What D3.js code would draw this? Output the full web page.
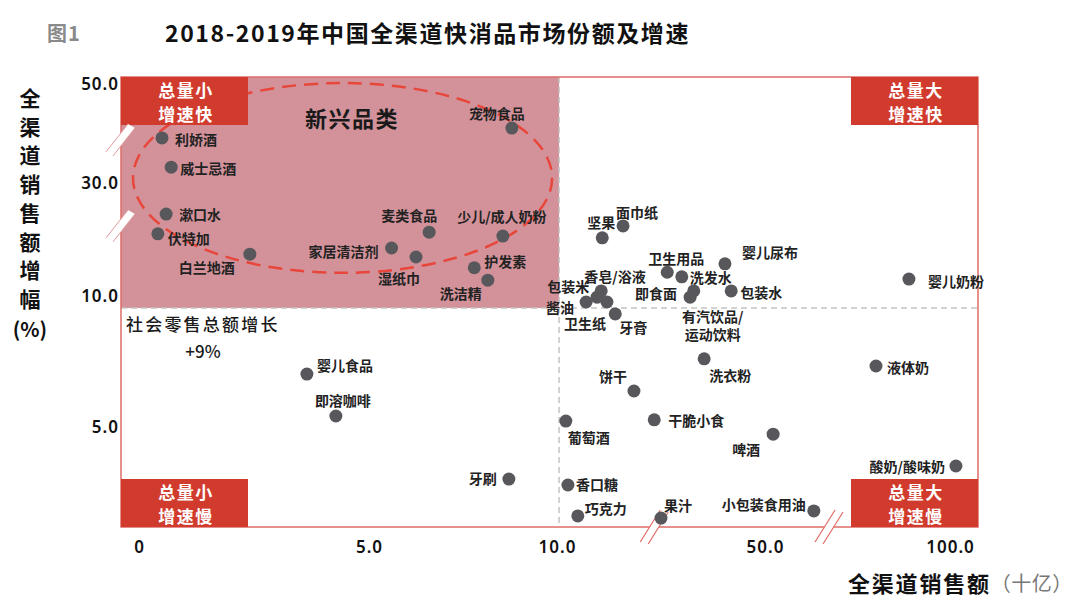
<!DOCTYPE html>
<html><head><meta charset="utf-8">
<script src="https://cdn.jsdelivr.net/npm/d3@7/dist/d3.min.js"></script>
<style>
html,body{margin:0;padding:0;background:#fff;}
svg{display:block;font-family:"Noto Sans CJK SC","Noto Sans",sans-serif;}
</style></head>
<body>
<svg id="c" width="1080" height="608"></svg>
<script>
// ---- data ----
const names = ["利娇酒","威士忌酒","漱口水","伏特加","白兰地酒","宠物食品","麦类食品","家居清洁剂","湿纸巾","少儿/成人奶粉","护发素","洗洁精",
 "坚果","面巾纸","卫生用品","婴儿尿布","洗发水","包装水","即食面","有汽饮品/|运动饮料","包装米","香皂/浴液","酱油","卫生纸","牙膏","婴儿奶粉",
 "婴儿食品","即溶咖啡","洗衣粉","饼干","葡萄酒","干脆小食","啤酒","液体奶","酸奶/酸味奶","牙刷","香口糖","巧克力","果汁","小包装食用油"];
const sales = [0.5,0.7,0.59,0.41,2.41,8.8,6.6,5.6,6.25,8.56,7.8,8.16,
 18.7,22.7,31.2,42.3,34.0,43.5,35.6,36.3,18.5,17.7,15.6,19.6,21.2,88.9,
 3.65,4.28,38.3,24.8,11.7,28.7,52.2,80,101.6,8.72,12.1,14.0,30.0,63.2];
const growth = [39.1,33.2,24.5,21.0,17.4,41.1,21.3,18.5,16.9,20.6,15.0,12.8,
 20.3,22.4,14.2,15.7,13.4,10.9,9.9,10.9,10.9,9.9,9.5,9.5,8.8,13.0,
 6.78,5.37,7.29,6.21,5.2,5.24,4.76,7.05,3.69,3.25,3.05,2.01,1.94,2.18];
const xTicks = [0,5,10,50,100];
const xTickLabels = ["0","5.0","10.0","50.0","100.0"];
const yTicks = [5,10,30,50];
const yTickLabels = ["5.0","10.0","30.0","50.0"];
const xMid = 10.4, yMid = 9;          // quadrant split (sales, retail growth 9%)
const yBreaks = [38.7, 22.4];
const xBreaks = [28.7, 67.3];

// ---- label placement (layout) ----
const labelPos = [
 [13,1,"start"],[9,1,"start"],[13,0,"start"],[10,4,"start"],[-15,13,"end"],[-15,-15,"middle"],[-20,-17,"middle"],[-13,3,"end"],[-17,21,"middle"],[-1,-20,"middle"],[10,-7,"start"],[-6,13,"end"],
 [-1,-16,"middle"],[14,-14,"middle"],[9,-14,"middle"],[17,-12,"start"],[8,0,"start"],[9,1,"start"],[-13,-4,"end"],[19,25,"middle"],[-12,-5,"end"],[18,-21,"middle"],[-12,5,"end"],[-22,21,"middle"],[18,13,"middle"],[19,2,"start"],
 [10,-9,"start"],[7,-16,"middle"],[26,16,"middle"],[-21,-15,"middle"],[23,16,"middle"],[14,0,"start"],[-27,15,"middle"],[11,1,"start"],[-11,0,"end"],[-12,-1,"end"],[8,-1,"start"],[7,-8,"start"],[17,-13,"middle"],[-8,-7,"end"]
];

const svg = d3.select("#c");
const L = 121, R = 978, T = 77, B = 527;
const x = d3.scaleLinear().domain(xTicks).range([139,369,557,765,950]);
const y = d3.scaleLinear().domain([5,9,10,30,50]).range([427,308,296,183,84]);
const RED = "#d13b2d";

// titles
svg.append("text").attr("x",47).attr("y",32).attr("dominant-baseline","central")
  .attr("font-size",20).attr("font-weight","bold").attr("letter-spacing",1).attr("fill","#8a8a8a").text("图1");
svg.append("text").attr("x",165).attr("y",32).attr("dominant-baseline","central")
  .attr("font-size",23).attr("font-weight","bold").attr("letter-spacing",1.6).attr("fill","#111")
  .text("2018-2019年中国全渠道快消品市场份额及增速");

// pink emerging region
svg.append("rect").attr("x",L).attr("y",T).attr("width",x(xMid)-L).attr("height",y(yMid)-T).attr("fill","#d3929a");

// dashed split lines
svg.append("line").attr("x1",x(xMid)).attr("x2",x(xMid)).attr("y1",T).attr("y2",B)
  .attr("stroke","#c4c4c4").attr("stroke-width",1.5).attr("stroke-dasharray","6,4");
svg.append("line").attr("x1",L).attr("x2",R).attr("y1",y(yMid)).attr("y2",y(yMid))
  .attr("stroke","#c4c4c4").attr("stroke-width",1.5).attr("stroke-dasharray","6,4");

// plot border
svg.append("rect").attr("x",L).attr("y",T).attr("width",R-L).attr("height",B-T)
  .attr("fill","none").attr("stroke","#de6c68").attr("stroke-width",1.5);

// ellipse
const eL = x(-0.13), eR = x(9.87), eT = y(50.2), eB = y(14.1);
svg.append("ellipse").attr("cx",(eL+eR)/2).attr("cy",(eT+eB)/2).attr("rx",(eR-eL)/2).attr("ry",(eB-eT)/2)
  .attr("fill","none").attr("stroke","#e8463a").attr("stroke-width",2.5).attr("stroke-dasharray","14,8");

svg.append("text").attr("x",352).attr("y",117).attr("text-anchor","middle").attr("dominant-baseline","central")
  .attr("font-size",22).attr("font-weight","bold").attr("letter-spacing",1.5).attr("fill","#1a1a1a").text("新兴品类");

svg.append("text").attr("x",126).attr("y",323).attr("dominant-baseline","central")
  .attr("font-size",17).attr("font-weight",500).attr("letter-spacing",2.2).attr("fill","#1a1a1a").text("社会零售总额增长");
svg.append("text").attr("x",203).attr("y",350).attr("text-anchor","middle").attr("dominant-baseline","central")
  .attr("font-size",17).attr("font-weight",500).attr("fill","#1a1a1a").text("+9%");

// quadrant boxes
const boxes = [
  {x:L, y:T, t:["总量小","增速快"]},
  {x:R-127, y:T, t:["总量大","增速快"]},
  {x:L, y:B-48, t:["总量小","增速慢"]},
  {x:R-127, y:B-48, t:["总量大","增速慢"]}
];
boxes.forEach(b=>{
  const g = svg.append("g");
  g.append("rect").attr("x",b.x).attr("y",b.y).attr("width",127).attr("height",48).attr("fill",RED);
  b.t.forEach((s,i)=>g.append("text").attr("x",b.x+65).attr("y",b.y+12.5+i*23.5).attr("text-anchor","middle")
    .attr("dominant-baseline","central").attr("font-size",17).attr("font-weight","bold").attr("letter-spacing",1.5)
    .attr("fill","#fff").text(s));
});

// axes
const xAxis = d3.axisBottom(x).tickValues(xTicks).tickSize(0).tickPadding(14)
  .tickFormat((d,i)=>xTickLabels[i]);
const gx = svg.append("g").attr("transform",`translate(0,${B})`).call(xAxis);
gx.select(".domain").remove();
gx.selectAll("text").attr("font-size",17).attr("font-weight",600).attr("letter-spacing",1)
  .attr("fill","#111").attr("font-family","'Noto Sans',sans-serif");

const yAxis = d3.axisLeft(y).tickValues(yTicks).tickSize(0).tickPadding(2)
  .tickFormat((d,i)=>yTickLabels[i]);
const gy = svg.append("g").attr("transform",`translate(${L},0)`).call(yAxis);
gy.select(".domain").remove();
gy.selectAll("text").attr("font-size",17).attr("font-weight",600).attr("letter-spacing",1)
  .attr("fill","#111").attr("font-family","'Noto Sans',sans-serif");

// break marks
yBreaks.forEach(v=>{
  const cy = y(v), cx = L;
  const g = svg.append("g");
  g.append("polygon").attr("points",`${cx-15},${cy+12} ${cx-8},${cy+16} ${cx+14},${cy-12} ${cx+7},${cy-16}`)
    .attr("fill","#fff");
  g.append("line").attr("x1",cx-15).attr("y1",cy+12).attr("x2",cx+7).attr("y2",cy-16).attr("stroke","#e09a9a").attr("stroke-width",1);
  g.append("line").attr("x1",cx-8).attr("y1",cy+16).attr("x2",cx+14).attr("y2",cy-12).attr("stroke","#e09a9a").attr("stroke-width",1);
});
xBreaks.forEach(v=>{
  const cx = x(v), cy = B;
  const g = svg.append("g");
  g.append("polygon").attr("points",`${cx-14},${cy+15} ${cx-6},${cy+17} ${cx+14},${cy-15} ${cx+6},${cy-17}`).attr("fill","#fff");
  g.append("line").attr("x1",cx-14).attr("y1",cy+15).attr("x2",cx+6).attr("y2",cy-17).attr("stroke","#e06a63").attr("stroke-width",1.2);
  g.append("line").attr("x1",cx-6).attr("y1",cy+17).attr("x2",cx+14).attr("y2",cy-15).attr("stroke","#e06a63").attr("stroke-width",1.2);
});

// points
const data = names.map((n,i)=>({n, s:sales[i], g:growth[i], p:labelPos[i]}));
svg.append("g").selectAll("circle").data(data).join("circle")
  .attr("cx",d=>x(d.s)).attr("cy",d=>y(d.g)).attr("r",6.5).attr("fill","#58585c");
const lg = svg.append("g");
data.forEach(d=>{
  const lines = d.n.split("|");
  lines.forEach((s,i)=>{
    lg.append("text").attr("x",x(d.s)+d.p[0]).attr("y",y(d.g)+d.p[1]+i*18)
      .attr("text-anchor",d.p[2]).attr("dominant-baseline","central")
      .attr("font-size",14).attr("font-weight","bold").attr("fill","#222").text(s);
  });
});

// axis titles
const yTitle = "全渠道销售额增幅".split("");
yTitle.forEach((c,i)=>svg.append("text").attr("x",30).attr("y",97+i*28.7).attr("text-anchor","middle")
  .attr("dominant-baseline","central").attr("font-size",21).attr("font-weight","bold").attr("fill","#111").text(c));
svg.append("text").attr("x",30).attr("y",328).attr("text-anchor","middle").attr("dominant-baseline","central")
  .attr("font-size",20).attr("font-weight","bold").attr("fill","#111").text("(%)");

const xt = svg.append("text").attr("x",848).attr("y",582).attr("dominant-baseline","central");
xt.append("tspan").attr("font-size",22).attr("font-weight","bold").attr("letter-spacing",1.8).attr("fill","#111").text("全渠道销售额");
xt.append("tspan").attr("font-size",20).attr("letter-spacing",0.5).attr("fill","#777").text("（十亿）");
</script>
</body></html>
